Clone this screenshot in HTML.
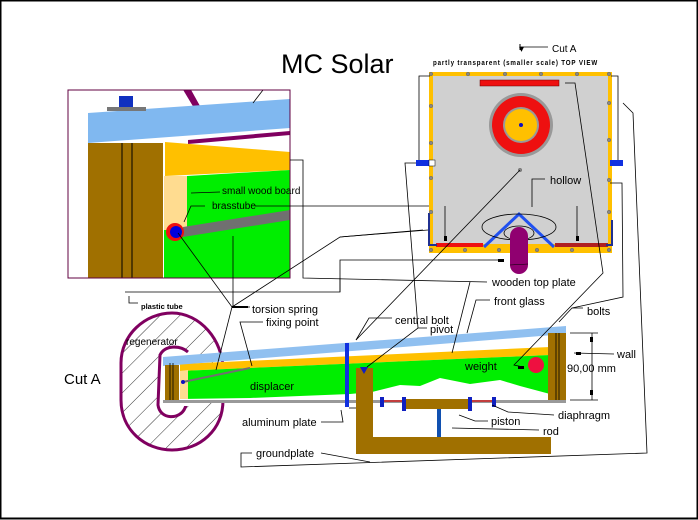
<!DOCTYPE html>
<html><head><meta charset="utf-8"><style>
html,body{margin:0;padding:0;background:#fff}
svg{display:block}
text{font-family:"Liberation Sans",sans-serif;fill:#000}
</style></head><body>
<svg width="698" height="520" viewBox="0 0 698 520" xmlns="http://www.w3.org/2000/svg">
<defs>
<pattern id="hatch" width="14" height="14" patternUnits="userSpaceOnUse" patternTransform="rotate(45)">
<line x1="0" y1="0" x2="0" y2="14" stroke="#000" stroke-width="0.8"/>
</pattern>
<clipPath id="insetclip"><rect x="68" y="90" width="222" height="188"/></clipPath>
</defs>
<rect x="0" y="0" width="698" height="520" fill="#fff"/>
<rect x="0.5" y="0.5" width="697" height="518" fill="none" stroke="#000" stroke-width="2"/>

<!-- Title -->
<text x="281" y="73" font-size="27">MC Solar</text>
<text x="64" y="384" font-size="15">Cut A</text>

<!-- INSET -->
<g clip-path="url(#insetclip)">
<rect x="68" y="90" width="222" height="188" fill="#fff"/>
<polygon points="182,88 190,88 200,106 194,108" fill="#800060"/>
<polygon points="88,113 290,99 290,128 88,143" fill="#80b8f0"/>
<polygon points="188,140 290,131 290,135 188,144" fill="#800060"/>
<rect x="88" y="143" width="75" height="135" fill="#a07000"/>
<line x1="122" y1="143" x2="122" y2="278" stroke="#000"/>
<line x1="132" y1="143" x2="132" y2="278" stroke="#000"/>
<polygon points="165,142 290,152 290,170 165,176" fill="#ffc000"/>
<polygon points="187,176 290,170 290,278 164,278 164,230 187,230" fill="#00ee00"/>
<rect x="164" y="176" width="23" height="54" fill="#ffdc90"/>
<polygon points="183,227 290,210 290,220 183,237" fill="#707070"/>
<circle cx="175" cy="232" r="9" fill="#ee1010"/>
<circle cx="176" cy="232" r="6" fill="#0000dd"/>
<rect x="107" y="107" width="39" height="4" fill="#777"/>
<rect x="119" y="96" width="14" height="11" fill="#1030c0"/>
<line x1="253" y1="103" x2="263" y2="90" stroke="#000" stroke-width="0.8"/>
</g>
<rect x="68" y="90" width="222" height="188" fill="none" stroke="#600040" stroke-width="1"/>
<line x1="191" y1="193" x2="220" y2="192" stroke="#000" stroke-width="0.8"/>
<text x="222" y="194" font-size="10">small wood board</text>
<polyline points="184,222 191,206 205,206" fill="none" stroke="#000" stroke-width="0.8"/>
<text x="212" y="209" font-size="10">brasstube</text>
<line x1="255" y1="206" x2="577" y2="206" stroke="#000" stroke-width="0.8"/>

<!-- TOP VIEW -->
<text x="519" y="52" font-size="10">▾</text>
<line x1="520" y1="44" x2="520" y2="50" stroke="#000"/>
<line x1="520" y1="47" x2="548" y2="47" stroke="#000" stroke-width="0.8"/>
<text x="552" y="52" font-size="10">Cut A</text>
<text x="433" y="65" font-size="7.5" font-weight="bold" textLength="165" lengthAdjust="spacingAndGlyphs" letter-spacing="1">partly transparent (smaller scale) TOP VIEW</text>
<rect x="429" y="72" width="183" height="181" fill="#ffc000"/>
<rect x="433" y="76" width="175" height="168" fill="#d0d0d0"/>
<rect x="480" y="80" width="79" height="6" fill="#ee1010" stroke="#600" stroke-width="0.5"/>
<circle cx="521" cy="125" r="32" fill="#999"/>
<circle cx="521" cy="125" r="29" fill="#ee1010"/>
<circle cx="521" cy="125" r="18" fill="#999"/>
<circle cx="521" cy="125" r="16" fill="#ffc000"/>
<circle cx="521" cy="125" r="2" fill="#1010c0"/>
<rect x="436" y="243" width="47" height="4" fill="#ee1010"/>
<rect x="555" y="243" width="53" height="4" fill="#b02020"/>
<polyline points="484,247 519,214 554,247" fill="none" stroke="#2050f0" stroke-width="3"/>
<polyline points="429,213 429,245 437,245" fill="none" stroke="#203090" stroke-width="2"/>
<polyline points="612,220 612,245 606,245" fill="none" stroke="#203090" stroke-width="2"/>
<ellipse cx="519" cy="227" rx="37" ry="13" fill="none" stroke="#000" stroke-width="0.8"/>
<ellipse cx="519" cy="233" rx="15" ry="7" fill="none" stroke="#000" stroke-width="0.8"/>
<rect x="510" y="227" width="18" height="47" rx="9" fill="#900070"/>
<line x1="510" y1="265" x2="528" y2="264" stroke="#000" stroke-width="0.6"/>
<g fill="#888" stroke="#555" stroke-width="0.4">
<circle cx="431" cy="74" r="1.8"/><circle cx="468" cy="74" r="1.8"/><circle cx="505" cy="74" r="1.8"/><circle cx="541" cy="74" r="1.8"/><circle cx="577" cy="74" r="1.8"/><circle cx="609" cy="74" r="1.8"/>
<circle cx="431" cy="106" r="1.8"/><circle cx="431" cy="143" r="1.8"/><circle cx="431" cy="178" r="1.8"/><circle cx="431" cy="212" r="1.8"/><circle cx="431" cy="250" r="1.8"/>
<circle cx="609" cy="103" r="1.8"/><circle cx="609" cy="140" r="1.8"/><circle cx="609" cy="180" r="1.8"/><circle cx="609" cy="212" r="1.8"/><circle cx="609" cy="250" r="1.8"/>
<circle cx="465" cy="250" r="1.8"/><circle cx="499" cy="250" r="1.8"/><circle cx="537" cy="250" r="1.8"/><circle cx="572" cy="250" r="1.8"/>
<circle cx="520" cy="170" r="1.8"/>
</g>
<rect x="416" y="160" width="13" height="6" fill="#1030e0"/><rect x="429" y="160" width="6" height="6" fill="#fff" stroke="#000" stroke-width="0.5"/>
<rect x="610" y="160" width="13" height="6" fill="#1030e0"/>
<polyline points="419,160 419,76 430,76" fill="none" stroke="#000" stroke-width="0.8"/>
<polyline points="618,160 618,76 611,76" fill="none" stroke="#000" stroke-width="0.8"/>
<polyline points="445,237 445,206" fill="none" stroke="#000" stroke-width="0.8"/>
<polyline points="577,237 577,206" fill="none" stroke="#000" stroke-width="0.8"/>
<polyline points="532,207 532,179 545,179" fill="none" stroke="#000" stroke-width="0.8"/>
<text x="550" y="184" font-size="11">hollow</text>

<!-- REGENERATOR -->
<path d="M172,313 C200,313 223,340 223,370 L223,400 C223,430 200,450 172,450 C145,450 121,430 121,400 L121,363 C121,335 145,313 172,313 Z" fill="url(#hatch)" stroke="#800060" stroke-width="3"/>
<path d="M188,352 C180,345 165,345 160,355 L158,405 C160,420 180,420 185,408 L188,400" fill="#fff" stroke="#800060" stroke-width="3"/>
<rect x="162" y="356" width="30" height="50" fill="#fff"/>
<text x="126" y="345" font-size="10">regenerator</text>

<!-- CUT A main -->
<polygon points="180,364 550,347 550,400 180,400" fill="#fff"/>
<polygon points="180,364 550,347 550,355 180,371" fill="#ffc000"/>
<polygon points="180,371 550,355 550,394 520,386 500,380 470,384 440,378 420,386 400,385 380,390 372,392 350,394 300,396 250,398 180,399" fill="#00ee00"/>
<polygon points="180,371 188,370 188,399 180,399" fill="#ffdc90"/>
<polygon points="163,357 566,326 566,334 163,366" fill="#90c0f0"/>
<rect x="165" y="365" width="14" height="37" fill="#a07000"/>
<line x1="170" y1="363" x2="170" y2="402" stroke="#000" stroke-width="0.8"/>
<line x1="173" y1="363" x2="173" y2="402" stroke="#000" stroke-width="0.8"/>
<rect x="548" y="333" width="18" height="69" fill="#a07000"/>
<line x1="556" y1="333" x2="556" y2="402" stroke="#000" stroke-width="0.8"/>
<line x1="559" y1="333" x2="559" y2="402" stroke="#000" stroke-width="0.8"/>
<rect x="163" y="400" width="403" height="3" fill="#999"/>
<line x1="183" y1="382" x2="250" y2="368" stroke="#707070" stroke-width="2"/>
<circle cx="183" cy="382" r="2" fill="#1010c0"/>
<text x="250" y="390" font-size="11">displacer</text>
<rect x="345" y="343" width="4" height="64" fill="#1030e0"/>
<rect x="356" y="368" width="17" height="86" fill="#a07000"/>
<rect x="356" y="437" width="195" height="17" fill="#a07000"/>
<rect x="403" y="399" width="69" height="10" fill="#a07000"/>
<rect x="437" y="409" width="4" height="28" fill="#1050b0"/>
<line x1="382" y1="401" x2="404" y2="401" stroke="#d02020" stroke-width="1.5"/>
<line x1="470" y1="401" x2="494" y2="401" stroke="#d02020" stroke-width="1.5"/>
<g fill="#1020c0"><rect x="380" y="397" width="4" height="10"/><rect x="402" y="397" width="4" height="14"/><rect x="468" y="397" width="4" height="14"/><rect x="492" y="397" width="4" height="10"/></g>
<polygon points="360,367 368,367 364,374" fill="#1020c0"/>
<circle cx="536" cy="365" r="8" fill="#ee1040"/>
<line x1="349" y1="408" x2="356" y2="408" stroke="#000" stroke-width="0.8"/>

<!-- labels -->
<g font-size="11">
<text x="252" y="313">torsion spring</text>
<text x="266" y="326">fixing point</text>
<text x="395" y="324">central bolt</text>
<text x="430" y="333">pivot</text>
<text x="492" y="286">wooden top plate</text>
<text x="494" y="305">front glass</text>
<text x="587" y="315">bolts</text>
<text x="617" y="358">wall</text>
<text x="567" y="372">90,00 mm</text>
<text x="465" y="370">weight</text>
<text x="558" y="419">diaphragm</text>
<text x="491" y="425">piston</text>
<text x="543" y="435">rod</text>
<text x="242" y="426">aluminum plate</text>
<text x="256" y="457">groundplate</text>
</g>
<text x="141" y="309" font-size="7.5" font-weight="bold">plastic tube</text>

<!-- leader lines -->
<g fill="none" stroke="#000" stroke-width="0.8">
<polyline points="290,160 303,160 303,278 487,282"/>
<polyline points="470,282 452,353"/>
<polyline points="129,296 129,303 138,303"/>
<polyline points="125,292 340,292 340,260 503,260"/>
<polyline points="178,233 232,307 250,307"/>
<polyline points="233,236 233,307"/>
<polyline points="232,307 216,370"/>
<polyline points="232,307 340,237 423,230"/>
<polyline points="263,322 240,322 252,366"/>
<polyline points="392,318 369,318 356,340"/>
<polyline points="356,340 520,170"/>
<polyline points="427,328 418,328 367,367"/>
<polyline points="418,328 405,163 416,163"/>
<polyline points="490,300 476,300 467,333"/>
<polyline points="583,308 572,308 559,322"/>
<polyline points="572,308 623,297 622,183 610,183"/>
<polyline points="523,367 514,365 603,273 575,83 565,83"/>
<polyline points="614,354 574,353"/>
<polyline points="570,333 598,333"/><polyline points="570,400 598,400"/><polyline points="592,333 592,400"/>
<polyline points="554,415 508,412 492,405"/>
<polyline points="488,421 475,421 459,415"/>
<polyline points="539,430 452,428"/>
<polyline points="321,422 343,422 341,410"/>
<polyline points="252,453 241,453 241,467 647,453 633,113 623,103"/>
<polyline points="321,453 370,462"/>
<polyline points="340,292 340,278"/>
<polyline points="428,230 340,237"/>
</g>
<g fill="#000">
<rect x="590" y="337" width="3" height="5"/><rect x="590" y="390" width="3" height="5"/>
<rect x="576" y="352" width="5" height="3"/>
<rect x="518" y="366" width="6" height="3"/>
<rect x="444" y="236" width="3" height="5"/><rect x="576" y="236" width="3" height="5"/>
<rect x="498" y="259" width="6" height="3"/>
<rect x="232" y="306" width="16" height="2"/>
</g>
</svg>
</body></html>
